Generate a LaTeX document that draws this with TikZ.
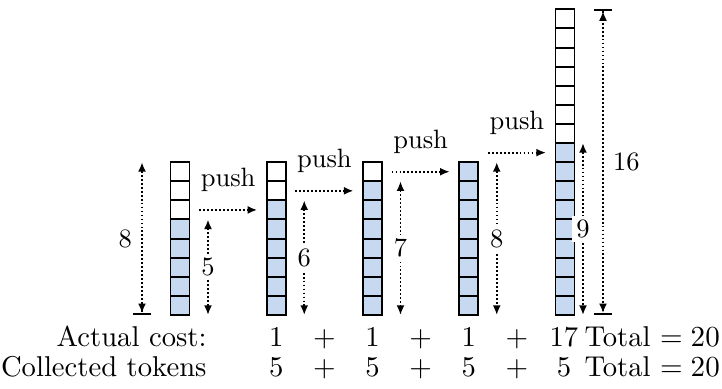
\documentclass[tikz,border=0pt]{standalone}
\usetikzlibrary{arrows.meta,calc}
\definecolor{tokblue}{RGB}{198,217,241}
\begin{document}
\begin{tikzpicture}[x=0.377pt,y=-0.377pt,
  cell/.style={draw=black, line width=0.75pt, minimum width=7.16pt, minimum height=7.2pt, inner sep=0pt, outer sep=0pt},
  dots/.style={line width=0.7pt, dash pattern=on 0.7pt off 0.8pt},
  pusharr/.style={dots, arrows={-Latex[length=3.6pt,width=3pt]}, shorten <=3.6pt, shorten >=3.6pt},
  dimarr/.style={dots, arrows={Latex[length=3.6pt,width=3pt]-Latex[length=3.6pt,width=3pt]}},
  dimbarend/.style={dots, arrows={Latex[length=3.6pt,width=3pt]-{Latex[length=3.6pt,width=3pt]Bar[width=6.5pt,line width=0.7pt]}}},
  dimbarboth/.style={dots, arrows={{Bar[width=6.5pt,line width=0.7pt]Latex[length=3.6pt,width=3pt]}-{Latex[length=3.6pt,width=3pt]Bar[width=6.5pt,line width=0.7pt]}}},
  numlab/.style={fill=white, inner sep=1.5pt},
  pushlab/.style={anchor=base, yshift=8.7pt, inner sep=0pt},
  rowtext/.style={font=\fontsize{10.8}{13}\selectfont, inner sep=0pt},
  rowlab/.style={rowtext, anchor=base east}]

\path[use as bounding box, fill=white] (0,0) rectangle (722,389);

% stacks of cells: number of cells and number of filled cells
\foreach \i/\n/\f in {1/8/5,2/8/6,3/8/7,4/8/8,5/16/9}{
  \foreach \j in {1,...,\n}{
    \ifnum\j>\f \def\cf{white}\else\def\cf{tokblue}\fi
    \node[cell, fill=\cf] (s\i c\j) at ({180+96.25*(\i-1)}, {315-19.1*(\j-0.5)}) {};
  }
}

% push operations between consecutive stacks
\foreach \i/\k/\m in {1/2/6,2/3/7,3/4/8,4/5/9}
  \draw[pusharr] (s\i c1.east |- s\k c\m.west) -- node[pushlab] (push\i) {push} (s\k c\m.west);

% heights of the filled parts
\foreach \i/\f in {1/5,2/6,3/7,4/8}
  \draw[dimarr] ($(s\i c\f.north)+(28,0)$) -- node[numlab] (h\i) {\f} ($(s\i c1.south)+(28,0)$);
\draw[dimarr] ($(s5c9.north)+(18,0)$) -- node[numlab] (h5) {9} ($(s5c1.south)+(18,0)$);

% capacities
\draw[dimbarend] ($(s1c8.north)+(-38,0)$) -- node[left, inner sep=3.5pt] (cap1) {8} ($(s1c1.south)+(-38,0)$);
\draw[dimbarboth] ($(s5c16.north)+(38,0)$) -- node[right, inner sep=3.5pt] (cap2) {16} ($(s5c1.south)+(38,0)$);

% cost accounting rows
\node[rowlab] (costlab) at (207,347) {Actual cost:};
\node[rowlab] (toklab) at (207,377) {Collected tokens};
\foreach \x/\t [count=\c] in {276.25/1, 324.4/$+$, 372.5/1, 420.6/$+$, 468.75/1, 516.9/$+$, 564/17}
  \node[rowtext, anchor=base] (a\c) at (\x,347) {\t};
\foreach \x/\t [count=\c] in {276.25/5, 324.4/$+$, 372.5/5, 420.6/$+$, 468.75/5, 516.9/$+$, 564/5}
  \node[rowtext, anchor=base] (b\c) at (\x,377) {\t};
\node[rowtext, anchor=base west] (tot1) at (584,347) {Total $= 20$};
\node[rowtext, anchor=base west] (tot2) at (584,377) {Total $= 20$};
\end{tikzpicture}
\end{document}
